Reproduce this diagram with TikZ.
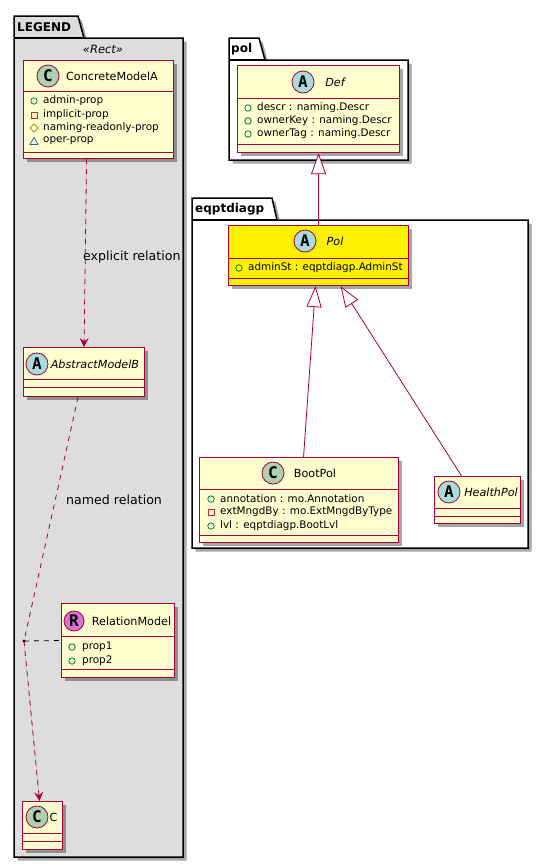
\documentclass[tikz,border=0pt]{standalone}
\usepackage{fontspec}
\setmainfont{DejaVu Sans}
\newfontfamily\circfont{DejaVu Sans Mono}
\usetikzlibrary{shadows,arrows.meta}
\definecolor{umlred}{HTML}{A80036}
\definecolor{umlfill}{HTML}{FEFECE}
\definecolor{circC}{HTML}{ADD1B2}
\definecolor{circA}{HTML}{A9DCDF}
\definecolor{circR}{HTML}{DA70D6}
\definecolor{legfill}{HTML}{DDDDDD}
\definecolor{icgreen}{HTML}{038048}
\definecolor{icred}{HTML}{C82930}
\definecolor{icgold}{HTML}{B38D22}
\definecolor{icblue}{HTML}{1963A0}
\tikzset{
  shad/.style={drop shadow={shadow xshift=3.5pt,shadow yshift=-3.5pt,opacity=0.35,fill=black}},
  cls/.style={draw=umlred, fill=umlfill, line width=1.1pt, rectangle, inner sep=0, anchor=north west, shad},
  sepline/.style={draw=umlred, line width=1pt},
  pkg/.style={draw=black, line width=1.5pt, shad},
  pkgname/.style={font=\fontsize{12}{14}\selectfont\bfseries, anchor=west, inner sep=0},
  circ/.style={circle, draw=umlred, line width=0.8pt, minimum size=22pt, inner sep=0, font=\fontsize{16}{16}\selectfont\circfont\bfseries},
  cname/.style={font=\fontsize{11.2}{13}\selectfont, inner sep=0},
  aname/.style={font=\fontsize{11.2}{13}\selectfont\itshape, inner sep=0},
  attr/.style={font=\fontsize{10.4}{12}\selectfont, anchor=west, inner sep=0},
  lbl/.style={font=\fontsize{12.6}{14}\selectfont, anchor=west, inner sep=0},
  dep/.style={draw=umlred, line width=0.8pt, dash pattern=on 5pt off 5pt, -{Stealth[length=9pt,width=9pt,inset=3.5pt]}, fill=umlred},
  gen/.style={draw=umlred, line width=0.8pt, -{Triangle[open,length=21pt,width=15pt,fill=white]}},
  icpub/.style={draw=icgreen, line width=0.8pt},
  icpriv/.style={draw=icred, line width=0.8pt},
  icprot/.style={draw=icgold, line width=0.8pt},
  icpkg/.style={draw=icblue, line width=0.8pt},
}
\begin{document}
\begin{tikzpicture}[x=1pt,y=-1pt]
\useasboundingbox[fill=white] (0,0) rectangle (549,868);

% ---------- LEGEND package ----------
\path[pkg, fill=legfill] (14,16) -- (78,16) -- (84,38) -- (183,38) -- (183,857) -- (14,857) -- cycle;
\draw[line width=1.5pt] (14,38) -- (84,38);
\node[pkgname] (legname) at (17,27) {LEGEND};
\node[font=\fontsize{11.5}{13}\selectfont\itshape, inner sep=0] (stereo) at (103,49) {«Rect»};

% ConcreteModelA
\node[cls, minimum width=150pt, minimum height=98pt] (cA) at (23,60) {};
\draw[sepline] (23,91) -- (173,91);
\draw[sepline] (23,152) -- (173,152);
\node[circ, fill=circC] (cAc) at (48,76) {C};
\node[cname] (cAn) at (112,76) {ConcreteModelA};
\draw[icpub] (34,101) circle (3.2);
\node[attr] (cAa1) at (43,101) {admin-prop};
\draw[icpriv] (31,112) rectangle (37.5,118.5);
\node[attr] (cAa2) at (43,115) {implicit-prop};
\draw[icprot] (34,124) -- (38,128) -- (34,132) -- (30,128) -- cycle;
\node[attr] (cAa3) at (43,128) {naming-readonly-prop};
\draw[icpkg] (30,144.5) -- (38,144.5) -- (34,137.5) -- cycle;
\node[attr] (cAa4) at (43,141) {oper-prop};

% AbstractModelB
\node[cls, minimum width=121pt, minimum height=49pt] (aB) at (23,347) {};
\draw[sepline] (23,379) -- (144,379);
\draw[sepline] (23,387) -- (144,387);
\node[circ, fill=circA] (aBc) at (37,364) {A};
\node[aname] (aBn) at (95,364) {AbstractModelB};

% RelationModel
\node[cls, minimum width=113pt, minimum height=74pt] (rm) at (61,603) {};
\draw[sepline] (61,636) -- (174,636);
\draw[sepline] (61,669) -- (174,669);
\node[circ, fill=circR, minimum size=20pt] (rmc) at (74,621) {R};
\node[cname] (rmn) at (131.5,621) {RelationModel};
\draw[icpub] (72,647) circle (3.2);
\node[attr] (rma1) at (82,647) {prop1};
\draw[icpub] (72,661) circle (3.2);
\node[attr] (rma2) at (82,661) {prop2};

% C
\node[cls, minimum width=40pt, minimum height=48pt] (cC) at (22,801) {};
\draw[sepline] (22,833) -- (62,833);
\draw[sepline] (22,841) -- (62,841);
\node[circ, fill=circC] (cCc) at (37,817) {C};
\node[cname] (cCn) at (53.5,817) {C};

% relations in legend
\coordinate (rel) at (24,641);
\draw[dep] ([xshift=-12pt]cA.south) -- (aB.north);
\node[lbl] (lbl1) at (83,257) {explicit relation};
\draw[umlred, line width=0.8pt, dash pattern=on 5pt off 5pt] ([xshift=-6pt]aB.south) -- (rel);
\node[lbl] (lbl2) at (66,500) {named relation};
\draw[dep] (rel) -- ([xshift=-3pt]cC.north);
\draw[black, line width=0.8pt, dash pattern=on 5pt off 5pt] (rel) -- (rm.west);
\fill[black] (rel) circle (1.6);

% ---------- pol package ----------
\path[pkg, fill=white] (229,38) -- (259,38) -- (265,60) -- (408,60) -- (408,160) -- (229,160) -- cycle;
\draw[line width=1.5pt] (229,60) -- (265,60);
\node[pkgname] (polname) at (231,49) {pol};

% Def
\node[cls, minimum width=162pt, minimum height=87pt] (def) at (237,65) {};
\draw[sepline] (237,98) -- (399,98);
\draw[sepline] (237,144) -- (399,144);
\node[circ, fill=circA] (defc) at (303,82) {A};
\node[aname] (defn) at (335,82) {Def};
\draw[icpub] (248,108) circle (3.2);
\node[attr] (defa1) at (257,108) {descr : naming.Descr};
\draw[icpub] (248,121) circle (3.2);
\node[attr] (defa2) at (257,121) {ownerKey : naming.Descr};
\draw[icpub] (248,134) circle (3.2);
\node[attr] (defa3) at (257,134) {ownerTag : naming.Descr};

% ---------- eqptdiagp package ----------
\path[pkg, fill=white] (192,198) -- (272,198) -- (277,220) -- (528,220) -- (528,548) -- (192,548) -- cycle;
\draw[line width=1.5pt] (192,220) -- (277,220);
\node[pkgname] (eqname) at (195,209) {eqptdiagp};

% Pol
\node[cls, fill=yellow, minimum width=180pt, minimum height=60pt] (pol) at (228,225) {};
\draw[sepline] (228,258) -- (408,258);
\draw[sepline] (228,278) -- (408,278);
\node[circ, fill=circA] (polc) at (305,241) {A};
\node[aname] (poln) at (335,241) {Pol};
\draw[icpub] (239,268) circle (3.2);
\node[attr] (pola1) at (248,268) {adminSt : eqptdiagp.AdminSt};

% BootPol
\node[cls, minimum width=199pt, minimum height=85pt] (boot) at (199,457) {};
\draw[sepline] (199,489) -- (398,489);
\draw[sepline] (199,535) -- (398,535);
\node[circ, fill=circC] (bootc) at (273,473) {C};
\node[cname] (bootn) at (315,473) {BootPol};
\draw[icpub] (211,499) circle (3.2);
\node[attr] (boota1) at (220,499) {annotation : mo.Annotation};
\draw[icpriv] (208,509) rectangle (214.5,515.5);
\node[attr] (boota2) at (220,512) {extMngdBy : mo.ExtMngdByType};
\draw[icpub] (211,526) circle (3.2);
\node[attr] (boota3) at (220,526) {lvl : eqptdiagp.BootLvl};

% HealthPol
\node[cls, minimum width=86pt, minimum height=47pt] (hp) at (434,476) {};
\draw[sepline] (434,508) -- (520,508);
\draw[sepline] (434,516) -- (520,516);
\node[circ, fill=circA] (hpc) at (449,492) {A};
\node[aname] (hpn) at (491,492) {HealthPol};

% generalizations
\draw[gen] (pol.north) -- (def.south);
\draw[gen] ([xshift=4.5pt]boot.north) -- ([xshift=-3pt]pol.south);
\draw[gen] ([xshift=-16pt]hp.north) -- ([xshift=22pt]pol.south);
\end{tikzpicture}
\end{document}
